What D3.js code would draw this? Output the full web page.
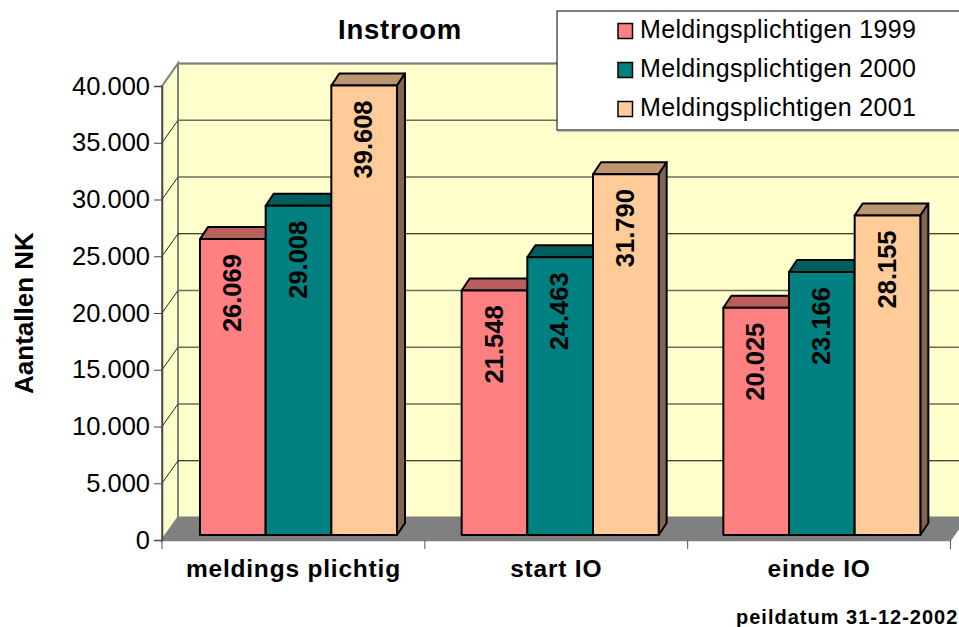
<!DOCTYPE html>
<html>
<head>
<meta charset="utf-8">
<script src="https://cdn.jsdelivr.net/npm/d3@7"></script>
<style>
    html, body { margin: 0; padding: 0; background: #fff; overflow: hidden; }
    svg { display: block; }
    text { font-family: "Liberation Sans", Arial, sans-serif; fill: #000; }
</style>
</head>
<body>
<svg id="chart" width="959" height="627"></svg>
<script>
var categories = ["meldings plichtig", "start IO", "einde IO"];
var seriesNames = ["Meldingsplichtigen 1999", "Meldingsplichtigen 2000", "Meldingsplichtigen 2001"];
var values1999 = [26069, 21548, 20025];
var values2000 = [29008, 24463, 23166];
var values2001 = [39608, 31790, 28155];
var yTicks = [0, 5000, 10000, 15000, 20000, 25000, 30000, 35000, 40000];

var seriesValues = [values1999, values2000, values2001];
var frontColors = ["#ff8080", "#008080", "#ffcc99"];
var topColors = ["#bb5e5e", "#005e5e", "#bb9670"];
var sideColors = ["#805050", "#004040", "#806650"];

var svg = d3.select("#chart");
var fmt = d3.formatLocale({ decimal: ",", thousands: ".", grouping: [3], currency: ["", ""] }).format(",d");

var x = d3.scaleBand().domain(categories).range([162, 950.5]);
// the bars step a little tighter than the axis ticks
var barX = d3.scaleBand().domain(categories).range([162, 947]);
var inner = d3.scaleBand().domain(d3.range(3)).range([38, 235]);
var y = d3.scaleLinear().domain([0, 40000]).range([540, 86]);

// depth of the 3d box and of the bars inside it
var wallDx = 16, wallDy = 22.5;
var barDx = 8, barDy = 12, barLift = 5;

var left = x.range()[0], right = x.range()[1];
var bottom = y(0), top_ = y(40000);

function poly(pts) {
    return pts.map(function (p) { return p.join(","); }).join(" ");
}

// walls and floor
svg.append("polygon")
    .attr("points", poly([[left + wallDx, top_ - wallDy], [right + wallDx, top_ - wallDy], [right + wallDx, bottom - wallDy], [left + wallDx, bottom - wallDy]]))
    .attr("fill", "#ffffcc").attr("stroke", "#808080").attr("stroke-width", 2);
svg.append("polygon")
    .attr("points", poly([[left, top_], [left + wallDx, top_ - wallDy], [left + wallDx, bottom - wallDy], [left, bottom]]))
    .attr("fill", "#ffffcc").attr("stroke", "#808080").attr("stroke-width", 2);
svg.append("polygon")
    .attr("points", poly([[left, bottom], [left + wallDx, bottom - wallDy], [right + wallDx, bottom - wallDy], [right, bottom]]))
    .attr("fill", "#808080");

// gridlines on both walls, the resampled original shows some thin black and some soft grey
var blackGrid = [5000, 25000];
var grid = svg.append("g");
yTicks.slice(1).forEach(function (t) {
    var isBlack = blackGrid.indexOf(t) >= 0;
    var color = t === 40000 ? "#808080" : (isBlack ? "#000" : "#6e6e58");
    var width = isBlack ? 1 : 1.5;
    grid.append("line")
        .attr("x1", left).attr("y1", y(t))
        .attr("x2", left + wallDx).attr("y2", y(t) - wallDy)
        .attr("stroke", t === 40000 ? "#808080" : "#222").attr("stroke-width", 1);
    grid.append("line")
        .attr("x1", left + wallDx).attr("y1", y(t) - wallDy)
        .attr("x2", right + wallDx).attr("y2", y(t) - wallDy)
        .attr("stroke", color).attr("stroke-width", width);
});

// right edge of the floor runs past the tick
svg.append("line")
    .attr("x1", right).attr("y1", bottom)
    .attr("x2", right + wallDx).attr("y2", bottom - wallDy)
    .attr("stroke", "#808080").attr("stroke-width", 1.5);

// axes
var yAxis = svg.append("g")
    .attr("transform", "translate(" + left + ",0)")
    .call(d3.axisLeft(y).tickValues(yTicks).tickSize(8).tickPadding(4).tickFormat(fmt));
yAxis.select(".domain").attr("stroke", "#444").attr("stroke-width", 1.5);
yAxis.selectAll("line").attr("stroke", "#444");
yAxis.selectAll("text").attr("font-size", 25.5).style("font-family", '"Liberation Sans", Arial, sans-serif');

var xAxis = svg.append("g")
    .attr("transform", "translate(0," + bottom + ")")
    .call(d3.axisBottom(x).tickSize(0).tickPadding(20));
xAxis.select(".domain").attr("stroke", "#808080").attr("stroke-width", 1.5);
xAxis.selectAll("text")
    .attr("font-size", 24.5).attr("font-weight", "bold")
    .attr("letter-spacing", 0.8)
    .style("font-family", '"Liberation Sans", Arial, sans-serif');
d3.range(4).forEach(function (i) {
    var tx = left + i * x.step();
    svg.append("line")
        .attr("x1", tx).attr("x2", tx)
        .attr("y1", bottom).attr("y2", bottom + 9)
        .attr("stroke", "#555");
});

// bars, back to front per category
categories.forEach(function (cat, c) {
    seriesValues.forEach(function (vals, s) {
        var x0 = barX(cat) + inner(s), w = inner.bandwidth();
        var yFront = y(vals[c]) - barLift, yBase = bottom - barLift;
        var g = svg.append("g").attr("stroke", "#000").attr("stroke-width", 2).attr("stroke-linejoin", "round");
        g.append("polygon")
            .attr("points", poly([[x0, yFront], [x0 + barDx, yFront - barDy], [x0 + w + barDx, yFront - barDy], [x0 + w, yFront]]))
            .attr("fill", topColors[s]);
        g.append("polygon")
            .attr("points", poly([[x0 + w, yFront], [x0 + w + barDx, yFront - barDy], [x0 + w + barDx, yBase - barDy], [x0 + w, yBase]]))
            .attr("fill", sideColors[s]);
        g.append("rect")
            .attr("x", x0).attr("y", yFront)
            .attr("width", w).attr("height", yBase - yFront)
            .attr("fill", frontColors[s]);
    });
});

// value labels sit a fixed distance under the bar top
categories.forEach(function (cat, c) {
    seriesValues.forEach(function (vals, s) {
        var cx = barX(cat) + inner(s) + inner.bandwidth() / 2 - 1;
        var cy = y(vals[c]) - barLift + 54;
        svg.append("text")
            .attr("transform", "translate(" + cx + "," + cy + ") rotate(-90)")
            .attr("text-anchor", "middle").attr("dominant-baseline", "central")
            .attr("font-size", 25.5).attr("font-weight", "bold")
            .text(fmt(vals[c]));
    });
});

// titles
svg.append("text").attr("x", 400).attr("y", 39)
    .attr("text-anchor", "middle")
    .attr("font-size", 27.5).attr("font-weight", "bold").attr("letter-spacing", 0.8)
    .text("Instroom");
svg.append("text")
    .attr("transform", "translate(33,313) rotate(-90)")
    .attr("text-anchor", "middle")
    .attr("font-size", 26).attr("font-weight", "bold")
    .text("Aantallen NK");
svg.append("text").attr("x", 736).attr("y", 624)
    .attr("font-size", 20).attr("font-weight", "bold").attr("letter-spacing", 1)
    .text("peildatum 31-12-2002");

// legend
var legend = svg.append("g");
legend.append("rect")
    .attr("x", 557).attr("y", 11).attr("width", 420).attr("height", 119)
    .attr("fill", "#fff").attr("stroke", "#000");
legend.append("line")
    .attr("x1", 557).attr("x2", 959).attr("y1", 131).attr("y2", 131)
    .attr("stroke", "#808080");
var legendY = d3.scalePoint().domain(seriesNames).range([29, 107]);
seriesNames.forEach(function (name, s) {
    legend.append("rect")
        .attr("x", 618).attr("y", legendY(name) - 5.5)
        .attr("width", 14.5).attr("height", 15)
        .attr("fill", frontColors[s]).attr("stroke", "#000").attr("stroke-width", 1.5);
    legend.append("text")
        .attr("x", 640).attr("y", legendY(name) + 8.5)
        .attr("font-size", 25).attr("letter-spacing", 0.35)
        .text(name);
});
</script>
</body>
</html>
